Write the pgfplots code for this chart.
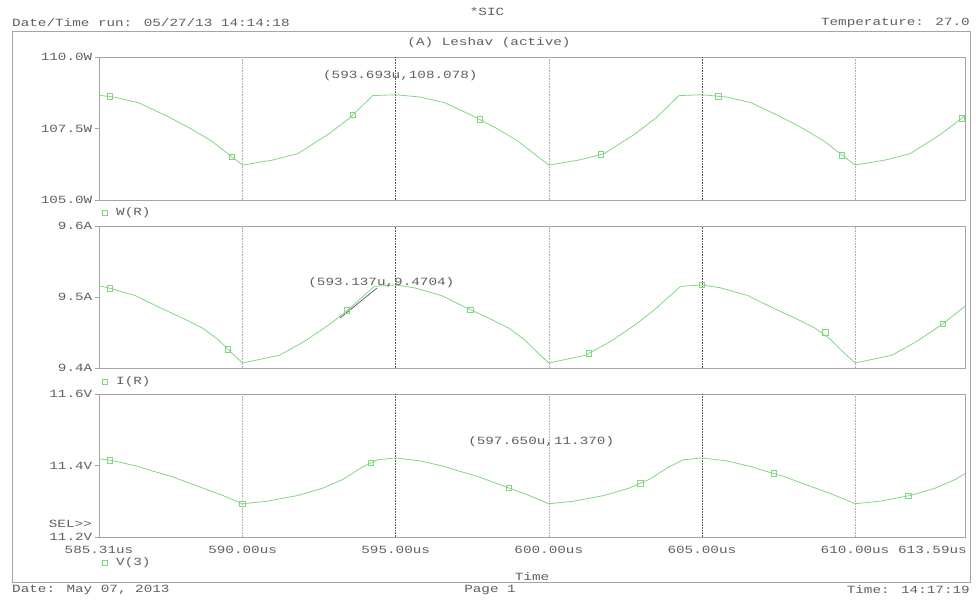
\documentclass[border=0pt]{standalone}
\usepackage{fontspec}
\usepackage{pgfplots}
\pgfplotsset{compat=1.18}
\newfontfamily\mono[FakeStretch=1.3]{Liberation Mono}
\newcommand\pf{\mono\fontsize{11}{13}\selectfont}
\definecolor{trace}{RGB}{130,214,130}
\definecolor{ink}{RGB}{95,95,95}
\definecolor{frame}{RGB}{165,165,165}
\definecolor{gridlight}{RGB}{175,175,175}
\definecolor{griddark}{RGB}{85,85,85}

\tikzset{
  gl/.style={gridlight, densely dotted, line width=0.6pt},
  gd/.style={griddark, densely dotted, line width=0.6pt},
}
\pgfplotsset{
  probe/.style={
    scale only axis, width=866pt,
    xmin=585.31, xmax=613.59,
    axis line style={frame, line width=0.8pt},
    xtick=\empty,
    ytick pos=left, tick align=outside, major tick length=4.5pt,
    ytick style={frame, line width=0.8pt},
    yticklabel style={font=\pf, text=ink, inner sep=0pt, xshift=-2pt},
  },
  trc/.style={trace, line width=0.8pt, no marks},
  mrk/.style={only marks, mark=square, mark size=2.8pt, mark options={trace, line width=0.7pt}},
}

\begin{document}
\begin{tikzpicture}[x=1pt, y=1pt]
\useasboundingbox (0,0) rectangle (976,601);

% page header and frame
\node[font=\pf, text=ink] at (487,589) {*SIC};
\node[font=\pf, text=ink, anchor=west, inner sep=0pt] at (12,578) {Date/Time run: 05/27/13 14:14:18};
\node[font=\pf, text=ink, anchor=east, inner sep=0pt] at (970,578) {Temperature: 27.0};
\draw[frame, line width=0.8pt] (12,19) rectangle (970,570);
\node[font=\pf, text=ink] at (489,558) {(A) Leshav (active)};

% ---- W(R) ----
\begin{axis}[probe, at={(99pt,401pt)}, anchor=south west, height=143pt,
  ymin=105, ymax=110, ytick={105,107.5,110}, yticklabels={105.0W,107.5W,110.0W}]
\draw[gl] (axis cs:590,105) -- (axis cs:590,110);
\draw[gd] (axis cs:595,105) -- (axis cs:595,110);
\draw[gl] (axis cs:600,105) -- (axis cs:600,110);
\draw[gd] (axis cs:605,105) -- (axis cs:605,110);
\draw[gl] (axis cs:610,105) -- (axis cs:610,110);
\addplot[trc] coordinates {
(585.31,108.66) (585.8,108.60) (586.6,108.40) (587.5,107.95) (588.3,107.50) (589.0,107.05) (589.6,106.55) (590.0,106.22)
(591.0,106.40) (591.8,106.62) (592.8,107.30) (593.5,107.87) (594.25,108.65) (595.0,108.68) (595.8,108.60) (596.6,108.40)
(597.5,107.95) (598.3,107.50) (599.0,107.05) (599.6,106.55) (600.0,106.22) (601.0,106.40) (601.8,106.62) (602.8,107.30)
(603.5,107.87) (604.25,108.65) (605.0,108.68) (605.8,108.60) (606.6,108.40) (607.5,107.95) (608.3,107.50) (609.0,107.05)
(609.6,106.55) (610.0,106.22) (611.0,106.40) (611.8,106.62) (612.8,107.30) (613.5,107.87) (613.59,107.96)};
\addplot[mrk] coordinates {
(585.67,108.62) (589.65,106.51) (593.6,107.97) (597.75,107.81) (601.7,106.59) (605.53,108.63) (609.57,106.57) (613.49,107.86)};
\node[font=\pf, text=ink] at (axis cs:595.15,109.33) {(593.693u,108.078)};
\end{axis}
\node[draw=trace, line width=0.7pt, minimum size=5pt, inner sep=0pt] at (105,388) {};
\node[font=\pf, text=ink, anchor=west, inner sep=0pt] at (116,388) {W(R)};

% ---- I(R) ----
\begin{axis}[probe, at={(99pt,233pt)}, anchor=south west, height=142pt,
  ymin=9.4, ymax=9.6, ytick={9.4,9.5,9.6}, yticklabels={9.4A,9.5A,9.6A}]
\draw[gl] (axis cs:590,9.4) -- (axis cs:590,9.6);
\draw[gd] (axis cs:595,9.4) -- (axis cs:595,9.6);
\draw[gl] (axis cs:600,9.4) -- (axis cs:600,9.6);
\draw[gd] (axis cs:605,9.4) -- (axis cs:605,9.6);
\draw[gl] (axis cs:610,9.4) -- (axis cs:610,9.6);
\addplot[trc] coordinates {
(585.31,9.516) (585.6,9.513) (586.5,9.502) (587.2,9.487) (588.0,9.471) (588.7,9.456) (589.2,9.440) (589.6,9.423) (590.0,9.407)
(591.2,9.418) (592.0,9.437) (592.86,9.462) (593.5,9.484) (594.3,9.515) (595.0,9.517) (595.6,9.513) (596.5,9.502) (597.2,9.487)
(598.0,9.471) (598.7,9.456) (599.2,9.440) (599.6,9.423) (600.0,9.407) (601.2,9.418) (602.0,9.437) (602.86,9.462) (603.5,9.484)
(604.3,9.515) (605.0,9.517) (605.6,9.513) (606.5,9.502) (607.2,9.487) (608.0,9.471) (608.7,9.456) (609.2,9.440) (609.6,9.423)
(610.0,9.407) (611.2,9.418) (612.0,9.437) (612.86,9.462) (613.5,9.484) (613.59,9.487)};
\addplot[mrk] coordinates {
(585.67,9.512) (589.52,9.426) (593.41,9.481) (597.43,9.482) (601.31,9.421) (605.0,9.517) (609.02,9.450) (612.87,9.462)};
% cursor slope segment
\draw[griddark, line width=0.7pt] (axis cs:593.18,9.4704) -- (axis cs:594.39,9.5127);
\node[font=\pf, text=ink] at (axis cs:594.53,9.5198) {(593.137u,9.4704)};
\end{axis}
\node[draw=trace, line width=0.7pt, minimum size=5pt, inner sep=0pt] at (105,219) {};
\node[font=\pf, text=ink, anchor=west, inner sep=0pt] at (116,219) {I(R)};

% ---- V(3) ----
\begin{axis}[probe, at={(99pt,64pt)}, anchor=south west, height=143pt,
  ymin=11.2, ymax=11.6, ytick={11.2,11.4,11.6}, yticklabels={11.2V,11.4V,11.6V}]
\draw[gl] (axis cs:590,11.2) -- (axis cs:590,11.6);
\draw[gd] (axis cs:595,11.2) -- (axis cs:595,11.6);
\draw[gl] (axis cs:600,11.2) -- (axis cs:600,11.6);
\draw[gd] (axis cs:605,11.2) -- (axis cs:605,11.6);
\draw[gl] (axis cs:610,11.2) -- (axis cs:610,11.6);
\addplot[trc] coordinates {
(585.31,11.419) (585.8,11.413) (586.6,11.397) (587.0,11.386) (587.65,11.370) (588.6,11.340) (589.3,11.318) (590.0,11.293)
(590.8,11.300) (591.8,11.316) (592.6,11.336) (593.3,11.362) (593.9,11.395) (594.4,11.416) (595.0,11.421) (595.8,11.413)
(596.6,11.397) (597.0,11.386) (597.65,11.370) (598.6,11.340) (599.3,11.318) (600.0,11.293) (600.8,11.300) (601.8,11.316)
(602.6,11.336) (603.3,11.362) (603.9,11.395) (604.4,11.416) (605.0,11.421) (605.8,11.413) (606.6,11.397) (607.0,11.386)
(607.65,11.370) (608.6,11.340) (609.3,11.318) (610.0,11.293) (610.8,11.300) (611.8,11.316) (612.6,11.336) (613.3,11.362)
(613.59,11.378)};
\addplot[mrk] coordinates {
(585.67,11.415) (590.0,11.293) (594.19,11.407) (598.70,11.337) (602.98,11.350) (607.35,11.378) (611.73,11.315)};
\node[font=\pf, text=ink] at (axis cs:599.75,11.4671) {(597.650u,11.370)};
\end{axis}
\node[font=\pf, text=ink, anchor=east, inner sep=0pt] at (92,77) {SEL>>};

% time axis labels
\node[font=\pf, text=ink] at (99,51) {585.31us};
\node[font=\pf, text=ink] at (242.6,51) {590.00us};
\node[font=\pf, text=ink] at (395.7,51) {595.00us};
\node[font=\pf, text=ink] at (548.8,51) {600.00us};
\node[font=\pf, text=ink] at (701.9,51) {605.00us};
\node[font=\pf, text=ink] at (855.0,51) {610.00us};
\node[font=\pf, text=ink, anchor=east, inner sep=0pt] at (967,51) {613.59us};
\node[draw=trace, line width=0.7pt, minimum size=5pt, inner sep=0pt] at (105,38) {};
\node[font=\pf, text=ink, anchor=west, inner sep=0pt] at (116,38) {V(3)};
\node[font=\pf, text=ink] at (532,24) {Time};

% page footer
\node[font=\pf, text=ink, anchor=west, inner sep=0pt] at (12,11) {Date: May 07, 2013};
\node[font=\pf, text=ink] at (490,11) {Page 1};
\node[font=\pf, text=ink, anchor=east, inner sep=0pt] at (970,11) {Time: 14:17:19};
\end{tikzpicture}
\end{document}
